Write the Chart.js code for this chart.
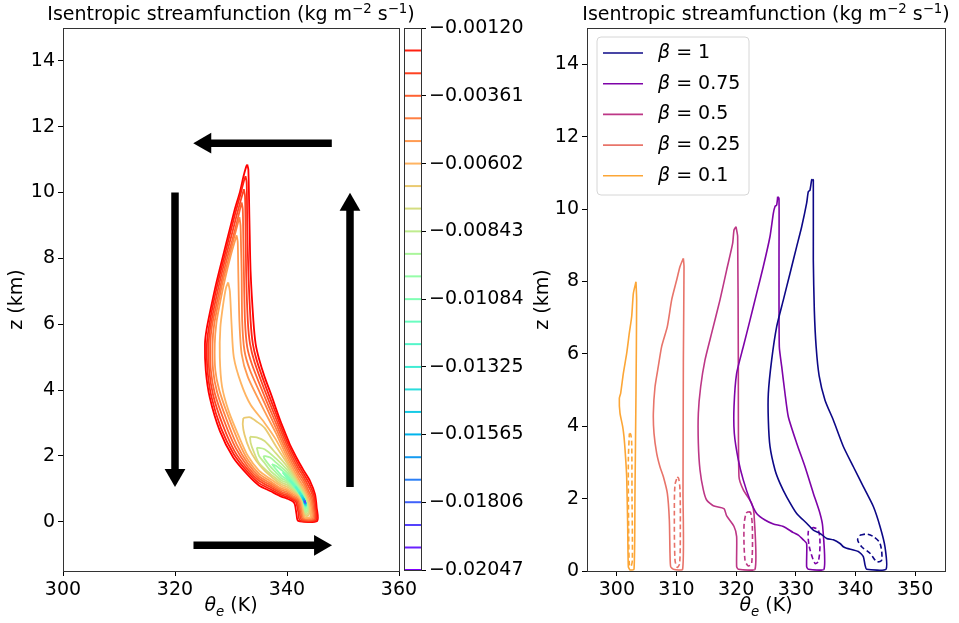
<!DOCTYPE html>
<html>
<head>
<meta charset="utf-8">
<script src="https://cdn.jsdelivr.net/npm/chart.js@4.4.0/dist/chart.umd.min.js"></script>
<style>
  html, body { margin: 0; padding: 0; background: #fff; }
  #wrap { position: relative; width: 959px; height: 623px; overflow: hidden; }
  #wrap canvas { position: absolute; left: 0; top: 0; }
</style>
</head>
<body>
<div id="wrap">
  <canvas id="left" width="959" height="623"></canvas>
  <canvas id="cbar" width="959" height="623"></canvas>
  <canvas id="right" width="959" height="623"></canvas>
</div>
<script>
// ---- left panel: streamfunction contours, [theta_e (K), z (km)] ----
const lev24 = [[332.9,10.85],[333.1,10.7],[333.3,9.1],[333.5,7.6],[334.0,6.1],[334.4,5.4],[335.0,4.95],[336.0,4.4],[337.3,3.8],[338.0,3.45],[338.8,3.07],[340.0,2.56],[340.5,2.35],[342.0,1.85],[343.0,1.55],[344.1,1.24],[345.0,0.83],[345.3,0.43],[345.4,0.02],[342.0,0.02],[341.7,0.22],[341.4,0.53],[341.0,0.62],[340.0,0.70],[339.0,0.76],[337.0,0.93],[335.0,1.1],[333.0,1.42],[330.4,1.95],[328.0,2.76],[326.2,3.78],[325.5,4.59],[325.35,5.4],[325.65,5.85],[326.5,6.57],[327.4,7.27],[328.6,8.09],[329.8,8.9],[330.7,9.51],[331.6,10.02],[332.2,10.47],[332.7,10.78],[332.9,10.85]];
const lev23 = [[332.6,10.5],[332.8,10.3],[332.9,9.0],[333.1,7.6],[333.5,6.1],[333.9,5.4],[334.6,4.9],[336.0,4.2],[338.0,3.3],[340.0,2.44],[342.0,1.74],[343.0,1.45],[344.0,1.15],[344.8,0.8],[345.1,0.43],[345.2,0.04],[342.3,0.04],[342.0,0.3],[341.6,0.6],[341.0,0.67],[340.0,0.75],[339.0,0.81],[337.0,0.99],[335.0,1.17],[333.0,1.5],[330.5,2.05],[328.2,2.85],[326.5,3.8],[325.8,4.6],[325.7,5.4],[326.0,5.85],[326.8,6.6],[327.7,7.3],[328.8,8.05],[329.9,8.8],[330.8,9.4],[331.7,9.95],[332.3,10.35],[332.6,10.5]];
const lev22 = [[332.3,10.1],[332.5,9.9],[332.6,9.0],[332.7,7.6],[333.0,6.1],[333.4,5.4],[334.2,4.85],[336.0,4.0],[338.0,3.15],[340.0,2.32],[342.0,1.63],[343.0,1.35],[344.0,1.02],[344.6,0.78],[344.9,0.43],[345.0,0.06],[342.6,0.06],[342.2,0.32],[341.8,0.62],[341.0,0.71],[340.0,0.80],[339.0,0.86],[337.0,1.05],[335.0,1.24],[333.0,1.58],[330.6,2.15],[328.5,2.95],[326.8,3.85],[326.1,4.6],[326.0,5.4],[326.3,5.9],[327.1,6.6],[328.0,7.3],[329.0,8.0],[330.1,8.7],[331.0,9.3],[331.8,9.8],[332.3,10.1]];
const lev21 = [[331.9,9.7],[332.1,9.5],[332.2,8.6],[332.3,7.6],[332.5,6.1],[332.9,5.3],[333.8,4.75],[336.0,3.8],[338.0,3.0],[340.0,2.2],[342.0,1.52],[343.0,1.25],[343.9,0.92],[344.4,0.75],[344.7,0.43],[344.8,0.08],[342.8,0.08],[342.4,0.34],[342.0,0.64],[341.0,0.75],[340.0,0.85],[339.0,0.91],[337.0,1.11],[335.0,1.31],[333.0,1.67],[330.8,2.25],[328.8,3.05],[327.1,3.9],[326.4,4.6],[326.3,5.4],[326.6,5.95],[327.4,6.6],[328.3,7.3],[329.3,8.0],[330.3,8.6],[331.2,9.2],[331.9,9.7]];
const lev20 = [[331.5,9.25],[331.7,9.0],[331.8,8.3],[331.9,7.6],[332.0,6.1],[332.4,5.2],[333.4,4.6],[336.0,3.6],[338.0,2.85],[340.0,2.08],[342.0,1.42],[343.0,1.15],[343.8,0.86],[344.2,0.72],[344.5,0.43],[344.6,0.1],[343.0,0.1],[342.6,0.36],[342.2,0.66],[341.0,0.79],[340.0,0.9],[339.0,0.96],[337.0,1.17],[335.0,1.38],[333.0,1.77],[331.0,2.35],[329.1,3.15],[327.5,3.95],[326.8,4.6],[326.7,5.4],[327.0,6.0],[327.8,6.7],[328.6,7.35],[329.6,8.0],[330.5,8.6],[331.5,9.25]];
const lev19 = [[331.0,8.7],[331.2,8.5],[331.3,7.6],[331.5,6.1],[331.9,5.1],[333.0,4.4],[336.0,3.35],[338.0,2.7],[340.0,1.97],[342.0,1.32],[343.0,1.05],[343.7,0.8],[344.0,0.68],[344.3,0.43],[344.4,0.12],[343.1,0.12],[342.8,0.36],[342.5,0.6],[342.0,0.74],[341.0,0.84],[340.0,0.95],[339.0,1.01],[337.0,1.23],[335.0,1.46],[333.0,1.88],[331.3,2.45],[329.4,3.25],[327.9,4.0],[327.2,4.6],[327.1,5.4],[327.4,6.05],[328.1,6.7],[328.9,7.35],[329.9,8.05],[331.0,8.7]];
const lev18 = [[329.5,7.27],[329.8,7.0],[330.1,6.0],[330.5,5.0],[331.8,4.2],[333.5,3.55],[336.0,3.0],[338.0,2.5],[340.0,1.86],[342.0,1.23],[343.0,0.96],[343.6,0.75],[344.0,0.5],[344.2,0.3],[344.2,0.14],[343.2,0.14],[342.9,0.38],[342.6,0.62],[342.0,0.78],[341.0,0.89],[340.0,1.0],[339.0,1.07],[337.0,1.3],[335.0,1.55],[333.0,2.0],[331.5,2.55],[329.6,3.35],[328.4,4.1],[328.0,5.0],[328.1,5.9],[328.6,6.6],[329.1,7.1],[329.5,7.27]];
const lev17 = [[332.2,3.15],[333.4,3.17],[334.5,3.05],[336.0,2.85],[338.0,2.3],[340.0,1.78],[341.0,1.48],[342.0,1.18],[343.0,0.9],[343.5,0.7],[343.85,0.5],[343.95,0.3],[343.9,0.2],[343.4,0.17],[343.0,0.4],[342.7,0.64],[342.0,0.82],[341.0,0.94],[340.0,1.06],[339.0,1.13],[338.0,1.25],[336.0,1.55],[334.5,1.85],[333.3,2.2],[332.4,2.65],[332.1,2.95],[332.2,3.15]];
const lev16 = [[333.4,2.58],[334.6,2.56],[336.0,2.45],[338.0,2.08],[340.0,1.68],[341.0,1.41],[342.0,1.13],[343.0,0.85],[343.45,0.66],[343.75,0.48],[343.8,0.3],[343.75,0.25],[343.4,0.22],[343.05,0.43],[342.8,0.66],[342.0,0.85],[341.0,0.99],[340.0,1.12],[339.0,1.19],[338.0,1.32],[337.0,1.45],[335.0,1.78],[334.0,2.15],[333.5,2.4],[333.4,2.58]];
const lev15 = [[334.6,2.25],[336.0,2.2],[338.0,1.92],[340.0,1.58],[341.0,1.35],[342.0,1.09],[343.0,0.8],[343.4,0.62],[343.65,0.46],[343.68,0.32],[343.35,0.28],[343.1,0.46],[342.9,0.68],[342.0,0.87],[341.0,1.03],[340.0,1.18],[339.0,1.25],[338.0,1.4],[337.0,1.55],[336.0,1.78],[335.0,2.0],[334.6,2.25]];
const lev14 = [[335.8,2.0],[337.0,1.95],[338.0,1.8],[340.0,1.5],[341.0,1.29],[342.0,1.05],[343.0,0.76],[343.35,0.6],[343.55,0.46],[343.58,0.35],[343.3,0.33],[343.15,0.5],[342.95,0.7],[342.0,0.89],[341.0,1.07],[340.0,1.23],[339.0,1.32],[338.0,1.5],[337.0,1.68],[336.0,1.9],[335.8,2.0]];
const lev13 = [[337.3,1.75],[338.0,1.7],[339.0,1.57],[340.0,1.43],[341.0,1.24],[342.0,1.02],[342.7,0.84],[343.1,0.7],[343.35,0.56],[343.45,0.45],[343.4,0.4],[343.25,0.45],[343.1,0.58],[342.8,0.72],[342.0,0.91],[341.0,1.1],[340.0,1.28],[339.0,1.4],[338.0,1.6],[337.3,1.75]];
const lev12 = [[339.2,1.5],[340.0,1.38],[341.0,1.2],[342.0,0.99],[342.7,0.82],[343.1,0.68],[343.32,0.56],[343.42,0.47],[343.35,0.43],[343.2,0.5],[343.0,0.62],[342.7,0.75],[342.0,0.93],[341.0,1.13],[340.0,1.32],[339.2,1.5]];
const lev11 = [[340.4,1.27],[341.0,1.17],[342.0,0.97],[342.7,0.8],[343.1,0.66],[343.3,0.56],[343.4,0.48],[343.32,0.46],[343.15,0.55],[342.9,0.67],[342.5,0.8],[342.0,0.94],[341.0,1.15],[340.4,1.27]];
const lev10 = [[341.5,1.07],[342.0,0.95],[342.6,0.8],[343.0,0.67],[343.25,0.57],[343.38,0.5],[343.3,0.48],[343.1,0.58],[342.8,0.7],[342.3,0.85],[341.8,0.98],[341.5,1.07]];
const lev9 = [[342.2,0.9],[342.7,0.78],[343.1,0.65],[343.3,0.56],[343.36,0.5],[343.27,0.5],[343.05,0.61],[342.6,0.77],[342.2,0.9]];
const lev8 = [[342.6,0.8],[343.0,0.68],[343.28,0.56],[343.34,0.51],[343.22,0.53],[343.0,0.64],[342.75,0.74],[342.6,0.8]];
const lev7 = [[342.8,0.74],[343.1,0.64],[343.3,0.55],[343.2,0.55],[343.0,0.66],[342.8,0.74]];
const lev6 = [[342.95,0.7],[343.2,0.61],[343.3,0.55],[343.2,0.57],[343.05,0.66],[342.95,0.7]];
const lev5 = [[343.05,0.67],[343.22,0.6],[343.28,0.56],[343.15,0.61],[343.05,0.67]];
const lev4 = [[343.1,0.65],[343.24,0.59],[343.27,0.57],[343.16,0.62],[343.1,0.65]];
const lev3 = [[343.15,0.63],[343.25,0.59],[343.18,0.61],[343.15,0.63]];
const lev2 = [[343.18,0.62],[343.24,0.6],[343.2,0.61],[343.18,0.62]];
const lev1 = [[343.2,0.615],[343.23,0.605],[343.2,0.615]];

// contour levels (colorbar), most negative first
const levels = [-0.02047,-0.01967,-0.01887,-0.01806,-0.01726,-0.01646,-0.01565,-0.01485,-0.01405,-0.01325,-0.01244,-0.01164,-0.01084,-0.01003,-0.00923,-0.00843,-0.00762,-0.00682,-0.00602,-0.00522,-0.00441,-0.00361,-0.00281,-0.00200,-0.00120];
const cbarTicks = [-0.02047,-0.01806,-0.01565,-0.01325,-0.01084,-0.00843,-0.00602,-0.00361,-0.00120];
const leftPaths = [null,lev1,lev2,lev3,lev4,lev5,lev6,lev7,lev8,lev9,lev10,lev11,lev12,lev13,lev14,lev15,lev16,lev17,lev18,lev19,lev20,lev21,lev22,lev23,lev24];

// circulation arrows: [tail, head centre, head rotation]
const arrowTop = [[348.0,11.5],[325.4,11.5],270];
const arrowLeft = [[320.0,10.0],[320.0,1.42],180];
const arrowRight = [[351.25,1.05],[351.25,9.63],0];
const arrowBottom = [[323.3,-0.72],[345.9,-0.72],90];

const leftXTicks = [300,320,340,360];
const zTicksLeft = [0,2,4,6,8,10,12,14];

// ---- right panel: single contour per beta ----
const betaLabels = ['1','0.75','0.5','0.25','0.1'];
const betaColors = ['#0d0887','#7e03a8','#bd3786','#e8746a','#fca636'];
const beta1 = [[332.77,10.82],[332.93,10.8],[332.93,8.59],[333.1,7.2],[333.4,6.2],[333.9,5.4],[334.89,4.72],[336.28,4.17],[337.96,3.44],[339.64,2.88],[341.31,2.33],[342.99,1.78],[344.11,1.23],[344.94,0.67],[345.11,0.05],[341.87,0.05],[341.59,0.17],[341.31,0.4],[340.47,0.54],[338.52,0.63],[337.96,0.67],[337.4,0.76],[336.28,0.86],[335.17,0.9],[334.05,1.04],[332.93,1.13],[331.81,1.32],[330.14,1.59],[328.46,2.05],[327.35,2.42],[326.51,2.79],[325.67,3.44],[325.39,4.17],[325.39,4.9],[325.95,5.83],[326.79,6.75],[327.91,7.49],[329.02,8.22],[330.14,8.96],[330.98,9.51],[331.81,10.16],[332.09,10.48],[332.37,10.52],[332.65,10.8],[332.77,10.82]];
const beta1Dash = [[340.75,0.99],[341.87,1.02],[342.99,0.95],[344.11,0.76],[344.39,0.3],[343.55,0.26],[342.43,0.49],[341.03,0.67],[340.36,0.86],[340.75,0.99]];
const beta075 = [[326.96,10.34],[327.18,10.29],[327.18,8.59],[327.23,6.2],[327.63,5.65],[328.18,4.91],[328.74,4.26],[330.14,3.53],[331.54,2.88],[332.93,2.15],[334.05,1.59],[334.5,1.23],[334.72,0.05],[332.09,0.05],[331.81,0.12],[331.81,0.76],[331.26,0.86],[330.42,0.99],[329.58,1.06],[327.91,1.23],[326.23,1.3],[324.83,1.41],[323.43,1.59],[322.32,1.96],[321.2,2.51],[320.36,3.07],[319.69,3.8],[319.64,4.54],[320.08,5.46],[321.2,6.2],[322.32,6.93],[323.43,7.67],[324.55,8.41],[325.67,9.24],[326.23,9.88],[326.51,10.07],[326.79,10.11],[326.96,10.34]];
const beta075Dash = [[332.65,1.18],[332.93,1.2],[333.77,1.13],[334.05,0.76],[333.77,0.26],[333.21,0.21],[332.26,0.67],[332.09,1.09],[332.65,1.18]];
const beta05 = [[319.97,9.51],[320.25,9.24],[320.36,5.83],[320.47,2.61],[321.2,2.24],[322.6,1.87],[322.99,1.59],[323.16,0.05],[320.36,0.05],[320.08,0.12],[320.08,0.95],[319.64,1.23],[318.41,1.52],[317.96,1.72],[316.17,1.8],[315.05,1.96],[314.5,2.24],[313.94,2.79],[313.66,3.53],[313.66,4.36],[314.05,5.09],[314.78,5.83],[315.89,6.57],[317.29,7.49],[318.41,8.32],[319.41,9.05],[319.64,9.42],[319.97,9.51]];
const beta05Dash = [[322.04,1.64],[322.43,1.61],[322.71,1.23],[322.6,0.21],[322.04,0.14],[321.48,0.3],[321.31,1.23],[321.65,1.59],[322.04,1.64]];
const beta025 = [[311.15,8.64],[311.26,8.41],[311.15,5.83],[311.09,2.15],[311.03,0.05],[309.47,0.05],[309.02,0.12],[308.91,0.49],[308.8,1.41],[308.46,2.15],[307.79,2.61],[307.23,2.88],[306.68,3.25],[306.23,3.8],[306.12,4.36],[306.4,5.09],[306.95,5.65],[307.51,6.2],[308.46,6.75],[309.19,7.49],[310.03,8.04],[310.59,8.41],[311.15,8.64]];
const beta025Dash = [[310.14,2.6],[310.36,2.56],[310.59,2.24],[310.64,1.22],[310.53,0.21],[310.14,0.1],[309.75,0.3],[309.64,1.69],[309.75,2.38],[310.14,2.6]];
const beta01 = [[303.21,7.99],[303.32,7.49],[303.21,4.91],[303.04,2.15],[302.88,0.05],[302.21,0.03],[301.93,0.12],[301.82,1.22],[301.65,2.61],[301.42,3.25],[301.2,3.71],[300.98,3.99],[300.53,4.36],[300.42,4.77],[300.64,4.91],[301.09,5.46],[301.65,6.01],[302.09,6.57],[302.49,7.03],[302.77,7.67],[303.21,7.99]];
const beta01Dash = [[302.1,3.8],[302.32,3.78],[302.49,3.53],[302.54,2.15],[302.6,0.3],[302.37,0.12],[302.1,0.17],[301.98,1.22],[301.93,3.07],[302.1,3.8]];
const rightXTicks = [300,310,320,330,340,350];
const zTicksRight = [0,2,4,6,8,10,12,14];

// title and x label, pieces: [text, size, raise, italic]
const titleParts = [['Isentropic streamfunction (kg m',19,0,false],['\u22122',13.3,7.5,false],[' s',19,0,false],['\u22121',13.3,7.5,false],[')',19,0,false]];
const xLabelParts = [['\u03B8',19,0,true],['e',13.3,-4.5,true],[' (K)',19,0,false]];

const FONT = "'DejaVu Sans', sans-serif";
Chart.defaults.font.family = FONT;
Chart.defaults.font.size = 19;
Chart.defaults.color = '#000';
Chart.defaults.animation = false;

function rainbow(t){
  const r = Math.min(1, Math.abs(2*t - 0.5));
  const g = Math.sin(Math.PI*t);
  const b = Math.cos(Math.PI*t/2);
  return `rgb(${Math.round(r*255)},${Math.round(g*255)},${Math.round(b*255)})`;
}

function richText(c, parts, cx, baseY){
  const fontOf = p => (p[3] ? 'italic ' : '') + p[1] + 'px ' + FONT;
  let total = 0;
  parts.forEach(p => { c.font = fontOf(p); total += c.measureText(p[0]).width; });
  let x = cx - total/2;
  c.textAlign = 'left'; c.textBaseline = 'alphabetic'; c.fillStyle = '#000';
  parts.forEach(p => { c.font = fontOf(p); c.fillText(p[0], x, baseY - p[2]); x += c.measureText(p[0]).width; });
}

// matplotlib-like frame, title and x label
const frame = {
  id: 'frame',
  afterDatasetsDraw(chart){
    const a = chart.chartArea, c = chart.ctx;
    c.save();
    c.strokeStyle = '#333'; c.lineWidth = 1;
    c.strokeRect(Math.round(a.left)+0.5, Math.round(a.top)+0.5, Math.round(a.right-a.left), Math.round(a.bottom-a.top));
    c.restore();
  }
};
const labels = {
  id: 'labels',
  afterDraw(chart){
    const a = chart.chartArea, c = chart.ctx, cx = (a.left + a.right)/2;
    c.save();
    richText(c, titleParts, cx, 20);
    richText(c, xLabelParts, cx, 611);
    c.restore();
  }
};

function axis(min, max, ticks, extra){
  return Object.assign({
    type: 'linear', min, max,
    afterBuildTicks: s => { s.ticks = ticks.map(v => ({value: v})); },
    grid: { display: true, drawOnChartArea: false, drawTicks: true, tickLength: 5, color: '#000', lineWidth: 1 },
    border: { display: false },
    ticks: { padding: 3, color: '#000', maxRotation: 0, minRotation: 0, autoSkip: false, font: {size: 19} }
  }, extra);
}
function xAxis(min, max, ticks){
  return axis(min, max, ticks, { afterFit: s => { s.height = 52; } });
}
function yAxis(min, max, ticks, w, pt){
  return axis(min, max, ticks, {
    afterFit: s => { s.width = w; },
    title: { display: true, text: 'z (km)', font: {size: 19}, padding: {top: pt, bottom: 0} }
  });
}

function arrowSet(a){
  return { data: [a[0], a[1]], showLine: true, borderColor: '#000', borderWidth: 7.5, borderCapStyle: 'butt',
    pointRadius: [0, 12], pointHoverRadius: 0, pointStyle: 'triangle', pointRotation: [0, a[2]],
    pointBackgroundColor: '#000', pointBorderColor: '#000', pointBorderWidth: 0, clip: false };
}

const leftSets = [];
leftPaths.forEach((p, i) => {
  if (!p) return;
  leftSets.push({ data: p, showLine: true, borderColor: rainbow(i/24), borderWidth: 1.8, pointRadius: 0, tension: 0.25 });
});
[arrowTop, arrowLeft, arrowRight, arrowBottom].forEach(a => leftSets.push(arrowSet(a)));

const quiet = { legend: { display: false }, tooltip: { enabled: false }, title: { display: false } };

new Chart(document.getElementById('left'), {
  type: 'scatter',
  data: { datasets: leftSets },
  options: {
    responsive: false, events: [],
    layout: { padding: { left: 0, right: 560, top: 28, bottom: 0 } },
    scales: { x: xAxis(300, 360, leftXTicks), y: yAxis(-1.5, 15, zTicksLeft, 63, 6) },
    plugins: quiet
  },
  plugins: [frame, labels]
});

// colorbar as its own small chart
const cbarSets = levels.map((v, i) => ({
  data: [[0, v], [1, v]], showLine: true, borderColor: rainbow(i/24), borderWidth: 2, pointRadius: 0
}));
const cbarY = axis(levels[0], levels[levels.length-1], cbarTicks, { position: 'right', afterFit: s => { s.width = 110; } });
cbarY.ticks = { padding: 3, color: '#000', autoSkip: false, font: {size: 19}, callback: v => '\u2212' + Math.abs(v).toFixed(5) };
new Chart(document.getElementById('cbar'), {
  type: 'scatter',
  data: { datasets: cbarSets },
  options: {
    responsive: false, events: [],
    layout: { padding: { left: 404, right: 428, top: 28, bottom: 53 } },
    scales: { x: { type: 'linear', min: 0, max: 1, display: false }, y: cbarY },
    plugins: quiet
  },
  plugins: [frame]
});

// right panel legend drawn inside the axes
const legendBox = {
  id: 'legendBox',
  afterDraw(chart){
    const c = chart.ctx, a = chart.chartArea;
    const x0 = a.left + 10, y0 = a.top + 9, w = 152, h = 158, r = 4;
    c.save();
    c.beginPath();
    c.moveTo(x0 + r, y0); c.lineTo(x0 + w - r, y0); c.arcTo(x0 + w, y0, x0 + w, y0 + r, r);
    c.lineTo(x0 + w, y0 + h - r); c.arcTo(x0 + w, y0 + h, x0 + w - r, y0 + h, r);
    c.lineTo(x0 + r, y0 + h); c.arcTo(x0, y0 + h, x0, y0 + h - r, r);
    c.lineTo(x0, y0 + r); c.arcTo(x0, y0, x0 + r, y0, r); c.closePath();
    c.fillStyle = 'rgba(255,255,255,0.8)'; c.fill();
    c.strokeStyle = '#d6d6d6'; c.lineWidth = 1; c.stroke();
    c.textBaseline = 'middle';
    betaLabels.forEach((lab, i) => {
      const y = y0 + 16 + i * 30.7;
      c.strokeStyle = betaColors[i]; c.lineWidth = 1.6;
      c.beginPath(); c.moveTo(x0 + 6, y); c.lineTo(x0 + 46, y); c.stroke();
      c.fillStyle = '#000';
      c.font = 'italic 19px ' + FONT;
      c.fillText('\u03B2', x0 + 61, y);
      const bw = c.measureText('\u03B2').width;
      c.font = '19px ' + FONT;
      c.fillText(' = ' + lab, x0 + 61 + bw, y);
    });
    c.restore();
  }
};

const rightSolid = [beta1, beta075, beta05, beta025, beta01];
const rightDash = [beta1Dash, beta075Dash, beta05Dash, beta025Dash, beta01Dash];
const rightSets = [];
rightSolid.forEach((p, i) => rightSets.push({ data: p, showLine: true, borderColor: betaColors[i], borderWidth: 1.6, pointRadius: 0, tension: 0.2 }));
rightDash.forEach((p, i) => rightSets.push({ data: p, showLine: true, borderColor: betaColors[i], borderWidth: 1.6, borderDash: [5, 3], pointRadius: 0, tension: 0.3 }));

new Chart(document.getElementById('right'), {
  type: 'scatter',
  data: { datasets: rightSets },
  options: {
    responsive: false, events: [],
    layout: { padding: { left: 530, right: 14, top: 28, bottom: 0 } },
    scales: { x: xAxis(295, 355, rightXTicks), y: yAxis(0, 15, zTicksRight, 57, 2) },
    plugins: quiet
  },
  plugins: [frame, legendBox, labels]
});
</script>
</body>
</html>
